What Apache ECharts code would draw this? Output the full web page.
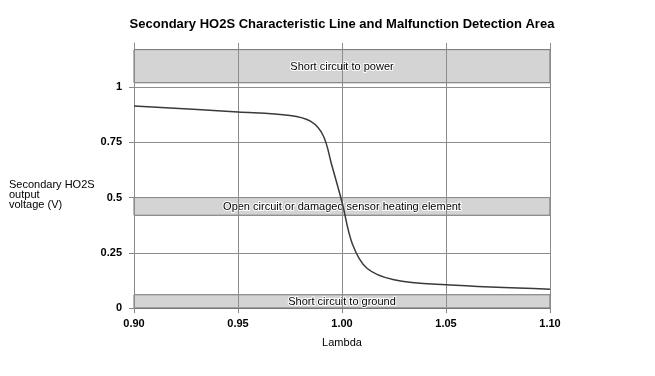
<!DOCTYPE html>
<html>
<head>
<meta charset="utf-8">
<script src="https://cdn.jsdelivr.net/npm/echarts@6/dist/echarts.min.js"></script>
<style>
  html, body { margin: 0; padding: 0; background: #fff; }
  #chart { width: 655px; height: 376px; }
</style>
</head>
<body>
<div id="chart"></div>
<script>
// lambda values and secondary HO2S voltage
const lambda = [0.90, 0.95, 0.975, 0.985, 0.991, 0.995, 1.0, 1.005, 1.012, 1.025, 1.05, 1.10]
const voltage = [0.915, 0.888, 0.872, 0.845, 0.78, 0.65, 0.48, 0.29, 0.18, 0.128, 0.105, 0.085]

// malfunction areas: [from, to, label]
const areaLow = [1.02, 0.42, 0]
const areaHigh = [1.17, 0.50, 0.06]
const areaNames = ['Short circuit to power', 'Open circuit or damaged sensor heating element', 'Short circuit to ground']

const yTicks = [0, 0.25, 0.5, 0.75, 1]

const chart = echarts.init(document.getElementById('chart'))

const areas = areaNames.map((name, i) => [
    { name: name, yAxis: areaLow[i] },
    { yAxis: areaHigh[i] }
])

const option = {
    animation: false,
    title: [{
        text: 'Secondary HO2S Characteristic Line and Malfunction Detection Area',
        left: 337,
        top: 13,
        textAlign: 'center',
        textStyle: { fontFamily: 'Liberation Sans', fontSize: 13, fontWeight: 'bold', color: '#000' }
    }, {
        text: 'Secondary HO2S\noutput\nvoltage (V)',
        left: 4,
        top: 175,
        textStyle: { fontFamily: 'Liberation Sans', fontSize: 11, fontWeight: 'normal', color: '#000', lineHeight: 10 }
    }],
    grid: { left: 134, right: 105, top: 43, bottom: 68 },
    xAxis: {
        type: 'value',
        min: 0.9,
        max: 1.1,
        interval: 0.05,
        z: 3,
        name: 'Lambda',
        nameLocation: 'middle',
        nameGap: 29,
        nameTextStyle: { fontFamily: 'Liberation Sans', fontSize: 11, color: '#000' },
        axisLine: { lineStyle: { color: '#777' } },
        axisTick: { show: true, length: 5, lineStyle: { color: '#888' } },
        axisLabel: {
            margin: 10,
            fontFamily: 'Liberation Sans', fontSize: 11, fontWeight: 'bold', color: '#000',
            formatter: v => v.toFixed(2)
        },
        splitLine: { show: true, lineStyle: { color: '#8c8c8c', width: 1 } }
    },
    yAxis: {
        type: 'value',
        min: 0,
        max: 1.2,
        interval: 0.25,
        z: 3,
        axisLine: { show: true, lineStyle: { color: '#8c8c8c' } },
        axisTick: { show: true, length: 5, customValues: yTicks, lineStyle: { color: '#888' } },
        axisLabel: {
            margin: 12,
            customValues: yTicks,
            fontFamily: 'Liberation Sans', fontSize: 11, fontWeight: 'bold', color: '#000'
        },
        splitLine: { show: true, lineStyle: { color: '#8c8c8c', width: 1 } }
    },
    series: [{
        type: 'line',
        z: 1,
        data: [],
        markArea: {
            silent: true,
            itemStyle: { color: '#d4d4d4', borderColor: '#6f6f6f', borderWidth: 1 },
            label: {
                position: 'inside',
                offset: [0, 1],
                fontFamily: 'Liberation Sans', fontSize: 11, color: '#000',
                textBorderColor: '#fff', textBorderWidth: 2
            },
            data: areas
        }
    }, {
        type: 'line',
        z: 5,
        smooth: 0.35,
        showSymbol: false,
        lineStyle: { color: '#3a3a3a', width: 1.5 },
        data: lambda.map((l, i) => [l, voltage[i]])
    }]
}

chart.setOption(option)
</script>
</body>
</html>
